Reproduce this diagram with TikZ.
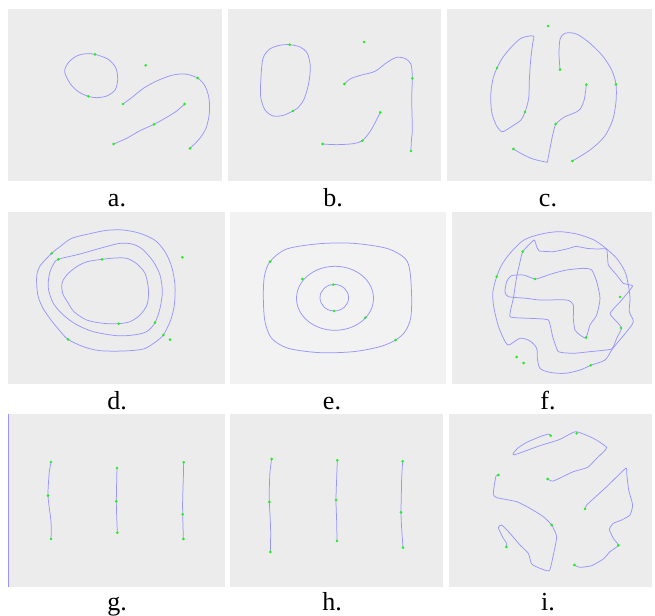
\documentclass[tikz,border=0pt]{standalone}
\usepackage{fontspec}
\setmainfont{Liberation Serif}
\definecolor{panelbg}{RGB}{236,236,236}
\definecolor{panelbgl}{RGB}{242,242,242}
\definecolor{curve}{RGB}{150,150,252}
\definecolor{gdot}{RGB}{30,240,30}
\begin{document}
\begin{tikzpicture}[x=1pt,y=-1pt,
  panel/.style={fill=panelbg,draw=none},
  crv/.style={draw=curve,line width=0.75pt},
  gpt/.style={circle,fill=gdot,inner sep=0pt,minimum size=2.9pt},
  lab/.style={anchor=base,inner sep=0pt,font=\fontsize{26}{30}\selectfont},
  zs/.style={shift={#1},scale=1/3}]
\useasboundingbox (0,0) rectangle (655,615);
\fill[white] (0,0) rectangle (655,615);
% panels
\fill[panel] (8,9) rectangle (222,181);
\fill[panel] (228,9) rectangle (441,181);
\fill[panel] (447,9) rectangle (652,181);
\fill[panel] (8,212) rectangle (225,384);
\fill[fill=panelbgl] (230,212) rectangle (446,384);
\fill[panel] (452,212) rectangle (652,384);
\fill[panel] (8,414) rectangle (225,587);
\fill[panel] (230,414) rectangle (443,587);
\fill[panel] (449,414) rectangle (652,587);
% labels
\node[lab] (la) at (117,206.5) {a.};
\node[lab] (lb) at (333,206.5) {b.};
\node[lab] (lc) at (548,206.5) {c.};
\node[lab] (ld) at (117,409) {d.};
\node[lab] (le) at (332,409) {e.};
\node[lab] (lf) at (548,409) {f.};
\node[lab] (lg) at (117,610) {g.};
\node[lab] (lh) at (332,610) {h.};
\node[lab] (li) at (548,610) {i.};
% panel a
\begin{scope}[zs={(0,0)}]
\draw[crv] plot[smooth cycle] coordinates {(285,163) (325,178) (348,205) (353,240) (345,270) (320,288) (290,293) (265,289) (235,275) (210,250) (194,215) (205,188) (230,168) (258,161)};
\draw[crv] plot[smooth] coordinates {(369,312) (395,293) (430,265) (470,243) (515,226) (555,222) (593,234) (615,258) (627,295) (628,340) (618,385) (597,418) (570,445)};
\draw[crv] plot[smooth] coordinates {(341,432) (380,415) (420,392) (462,373) (500,352) (530,333) (554,312)};
\foreach \p in {(285,163),(265,289),(437,196),(369,312),(593,234),(570,445),(341,432),(462,373),(554,312)} \node[gpt] at \p {};
\end{scope}
% panel b
\begin{scope}[zs={(220,0)}]
\draw[crv] plot[smooth cycle] coordinates {(209,134) (240,141) (262,160) (271,200) (266,250) (252,298) (232,325) (219,333) (190,346) (160,348) (135,330) (122,290) (123,230) (129,175) (148,148) (178,136)};
\draw[crv] plot[smooth] coordinates {(373,252) (392,236) (425,225) (465,214) (500,188) (530,172) (556,176) (573,193) (577,235) (575,290) (576,340) (577,390) (574,425) (573,453)};
\draw[crv] plot[smooth] coordinates {(308,432) (350,434) (400,431) (427,422) (450,395) (467,365) (481,337)};
\foreach \p in {(209,134),(219,333),(432,126),(373,252),(577,235),(573,453),(308,432),(427,422),(481,337)} \node[gpt] at \p {};
\end{scope}
% panel c
\begin{scope}[zs={(440,0)}]
\draw[crv] plot[smooth cycle,tension=0.5] coordinates {(280,108) (245,114) (218,137) (190,170) (171,204) (158,240) (152,290) (156,340) (170,378) (186,395) (205,386) (225,373) (243,360) (255,336) (266,295) (268,240) (272,180) (278,130)};
\draw[crv] plot[smooth] coordinates {(360,209) (357,160) (360,118) (370,103) (385,98) (412,103) (450,130) (488,168) (515,210) (528,253) (528,305) (518,360) (493,410) (450,450) (397,483)};
\draw[crv] plot[smooth] coordinates {(439,254) (433,298) (420,328) (400,340) (375,350) (358,362) (347,372) (338,405) (330,445) (322,487)};
\draw[crv] plot[smooth] coordinates {(322,487) (282,478) (250,464) (220,447)};
\foreach \p in {(324,78),(171,204),(255,336),(360,209),(528,253),(397,483),(439,254),(347,372),(220,447)} \node[gpt] at \p {};
\end{scope}
% panel d
\begin{scope}[zs={(0,205)}]
\draw[crv] plot[smooth cycle] coordinates {(155,145) (180,125) (215,100) (270,86) (320,76) (370,75) (420,85) (465,106) (495,140) (515,185) (525,240) (523,300) (512,345) (490,390) (465,412) (430,432) (370,438) (300,437) (250,425) (204,403) (180,378) (153,345) (128,308) (113,268) (110,215) (120,183)};
\draw[crv] plot[smooth cycle] coordinates {(175,163) (240,147) (300,130) (360,115) (400,118) (430,135) (460,170) (480,210) (487,260) (480,310) (465,353) (440,380) (400,390) (350,392) (280,380) (228,358) (190,330) (160,295) (145,250) (148,208) (160,178)};
\draw[crv] plot[smooth cycle] coordinates {(306,163) (345,159) (380,160) (410,176) (435,205) (445,250) (442,297) (420,330) (390,350) (356,356) (310,355) (260,345) (222,320) (202,290) (188,265) (186,235) (200,210) (230,185) (262,170)};
\foreach \p in {(155,145),(175,163),(306,163),(547,157),(356,356),(465,353),(490,390),(204,403),(510,404)} \node[gpt] at \p {};
\end{scope}
% panel e
\draw[crv] (335,298.3) ellipse [x radius=38.5, y radius=32];
\draw[crv] (334.3,297.7) ellipse [x radius=14.3, y radius=13.3];
\begin{scope}[zs={(220,205)}]
\draw[crv] plot[smooth cycle] coordinates {(150,170) (200,132) (300,116) (400,115) (500,130) (555,160) (570,200) (575,280) (572,340) (555,380) (527,405) (480,425) (400,440) (300,443) (205,430) (155,400) (135,350) (130,280) (133,215)};
\foreach \p in {(150,170),(527,405),(247,222),(436,338),(340,239),(342,318)} \node[gpt] at \p {};
\end{scope}
% panel f
\begin{scope}[zs={(440,205)}]
\draw[crv] plot[smooth cycle,tension=0.5] coordinates {(205,420) (188,395) (174,360) (162,310) (158,268) (164,235) (170,215) (185,180) (210,145) (250,106) (300,88) (355,80) (410,87) (460,104) (495,128) (530,160) (555,200) (565,240) (570,280) (568,320) (580,350) (560,380) (535,410) (515,435) (495,465) (452,481) (420,495) (375,505) (330,502) (300,490) (292,460) (290,430) (270,408) (240,400)};
\draw[crv] plot[smooth cycle,tension=0.25] coordinates {(282,105) (248,140) (238,180) (230,215) (220,280) (210,335) (270,340) (325,345) (338,395) (355,440) (400,445) (450,440) (515,432) (530,400) (545,369) (530,350) (510,325) (545,285) (578,243) (550,235) (530,210) (505,180) (500,133) (470,132) (440,130) (408,124) (380,132) (340,140) (298,138) (290,125)};
\draw[crv] plot[smooth cycle,tension=0.4] coordinates {(285,222) (250,210) (215,212) (200,230) (195,260) (205,275) (260,280) (300,285) (380,285) (400,300) (400,340) (405,375) (420,390) (438,398) (450,360) (470,330) (480,280) (470,230) (455,195) (430,190) (380,195) (340,205) (310,215)};
\foreach \p in {(248,140),(170,215),(285,222),(540,276),(543,369),(438,398),(452,481),(230,456),(251,474)} \node[gpt] at \p {};
\end{scope}
% panel g
\coordinate (gt) at (8,414);
\coordinate (gb) at (8,587);
\draw[crv] (gt) -- (gb);
\begin{scope}[zs={(0,405)}]
\draw[crv] plot[smooth] coordinates {(153,171) (148,200) (145,240) (144,272) (148,310) (152,340) (154,370) (153,402)};
\draw[crv] plot[smooth] coordinates {(351,189) (350,230) (349,289) (350,330) (352,383)};
\draw[crv] plot[smooth] coordinates {(551,172) (550,220) (548,280) (548,328) (549,360) (550,402)};
\foreach \p in {(153,171),(144,272),(153,402),(351,189),(349,289),(352,383),(551,172),(548,328),(550,402)} \node[gpt] at \p {};
\end{scope}
% panel h
\begin{scope}[zs={(220,405)}]
\draw[crv] plot[smooth] coordinates {(155,162) (150,200) (148,250) (148,291) (150,330) (152,380) (151,441)};
\draw[crv] plot[smooth] coordinates {(352,166) (350,220) (348,285) (350,350) (351,408)};
\draw[crv] plot[smooth] coordinates {(548,169) (545,220) (544,270) (543,322) (545,370) (549,428)};
\foreach \p in {(155,162),(148,291),(151,441),(352,166),(348,285),(351,408),(548,169),(543,322),(549,428)} \node[gpt] at \p {};
\end{scope}
% panel i
\begin{scope}[zs={(440,405)}]
\draw[crv] plot[smooth,tension=0.3] coordinates {(332,92) (325,87) (300,95) (260,112) (235,128) (222,142) (222,150) (300,122) (360,103) (407,80) (460,100) (500,128) (470,160) (443,187) (400,200) (340,228) (323,222)};
\draw[crv] plot[smooth,tension=0.3] coordinates {(435,312) (440,300) (500,245) (557,190) (560,205) (566,255) (578,300) (570,330) (545,345) (520,355) (508,373) (520,400) (535,421) (510,440) (490,462) (455,482) (420,487) (403,480)};
\draw[crv] plot[smooth,tension=0.3] coordinates {(175,210) (168,213) (163,240) (160,268) (170,278) (230,290) (270,310) (310,335) (335,360) (350,395) (340,450) (328,497) (300,490) (275,477) (265,445) (240,420) (210,385) (185,360) (175,368) (190,400) (200,415) (199,426)};
\foreach \p in {(332,92),(410,85),(323,222),(435,312),(535,421),(403,480),(175,210),(335,360),(199,426)} \node[gpt] at \p {};
\end{scope}
\end{tikzpicture}
\end{document}
